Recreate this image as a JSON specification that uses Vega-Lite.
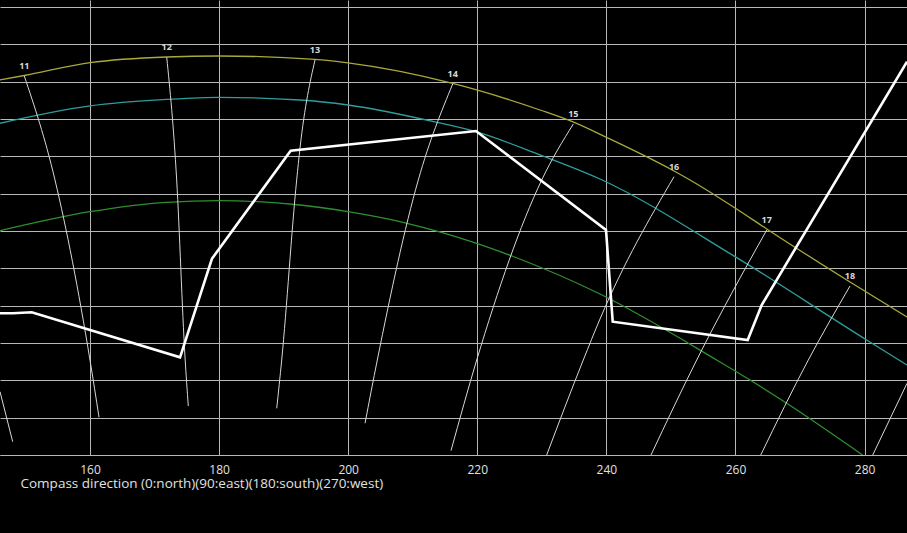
{
  "$schema": "https://vega.github.io/schema/vega-lite/v6.json",
  "width": 907,
  "height": 455,
  "autosize": {"type": "none"},
  "padding": {"left": 0, "top": 0, "right": 0, "bottom": 78},
  "background": "#000000",
  "config": {"view": {"stroke": null}, "font": "Open Sans"},
  "datasets": {
    "paths": [
      {"series": "A", "az": 146.06, "alt": 50.22},
      {"series": "A", "az": 149.82, "alt": 50.82},
      {"series": "A", "az": 160.0, "alt": 52.54},
      {"series": "A", "az": 171.89, "alt": 53.30},
      {"series": "A", "az": 179.94, "alt": 53.43},
      {"series": "A", "az": 194.86, "alt": 52.97},
      {"series": "A", "az": 199.97, "alt": 52.50},
      {"series": "A", "az": 216.19, "alt": 49.75},
      {"series": "A", "az": 219.91, "alt": 48.88},
      {"series": "A", "az": 229.72, "alt": 46.20},
      {"series": "A", "az": 234.83, "alt": 44.60},
      {"series": "A", "az": 240.05, "alt": 42.52},
      {"series": "A", "az": 250.48, "alt": 38.03},
      {"series": "A", "az": 252.95, "alt": 36.83},
      {"series": "A", "az": 259.93, "alt": 33.08},
      {"series": "A", "az": 264.84, "alt": 30.27},
      {"series": "A", "az": 277.74, "alt": 23.17},
      {"series": "A", "az": 286.57, "alt": 18.48},
      {"series": "B", "az": 146.06, "alt": 44.42},
      {"series": "B", "az": 160.0, "alt": 46.74},
      {"series": "B", "az": 171.89, "alt": 47.61},
      {"series": "B", "az": 179.94, "alt": 47.90},
      {"series": "B", "az": 192.54, "alt": 47.54},
      {"series": "B", "az": 199.97, "alt": 46.87},
      {"series": "B", "az": 213.45, "alt": 44.60},
      {"series": "B", "az": 219.91, "alt": 43.26},
      {"series": "B", "az": 229.72, "alt": 40.18},
      {"series": "B", "az": 239.01, "alt": 36.96},
      {"series": "B", "az": 259.93, "alt": 26.56},
      {"series": "B", "az": 280.33, "alt": 15.40},
      {"series": "B", "az": 286.57, "alt": 12.05},
      {"series": "C", "az": 146.06, "alt": 30.04},
      {"series": "C", "az": 160.0, "alt": 32.58},
      {"series": "C", "az": 171.89, "alt": 33.84},
      {"series": "C", "az": 179.94, "alt": 34.06},
      {"series": "C", "az": 192.54, "alt": 33.48},
      {"series": "C", "az": 199.97, "alt": 32.58},
      {"series": "C", "az": 209.11, "alt": 31.03},
      {"series": "C", "az": 219.91, "alt": 28.35},
      {"series": "C", "az": 225.38, "alt": 26.65},
      {"series": "C", "az": 239.01, "alt": 21.56},
      {"series": "C", "az": 257.09, "alt": 12.72},
      {"series": "C", "az": 262.25, "alt": 10.04},
      {"series": "C", "az": 267.93, "alt": 6.92},
      {"series": "C", "az": 279.68, "alt": 0.0}
    ],
    "horizon": [
      {"ord": 0, "az": 146.06, "alt": 18.98},
      {"ord": 1, "az": 148.07, "alt": 18.98},
      {"ord": 2, "az": 150.97, "alt": 19.11},
      {"ord": 3, "az": 173.95, "alt": 13.08},
      {"ord": 4, "az": 178.90, "alt": 26.29},
      {"ord": 5, "az": 191.09, "alt": 40.75},
      {"ord": 6, "az": 219.80, "alt": 43.39},
      {"ord": 7, "az": 239.94, "alt": 30.13},
      {"ord": 8, "az": 240.98, "alt": 17.85},
      {"ord": 9, "az": 261.89, "alt": 15.40},
      {"ord": 10, "az": 264.06, "alt": 20.09},
      {"ord": 11, "az": 286.57, "alt": 52.67}
    ],
    "hours": [
      {"hour": "10", "ord": 1, "az": 146.06, "alt": 8.48},
      {"hour": "10", "ord": 2, "az": 148.03, "alt": 1.78},
      {"hour": "11", "ord": 0, "az": 149.82, "alt": 50.76},
      {"hour": "11", "ord": 1, "az": 154.58, "alt": 36.83},
      {"hour": "11", "ord": 2, "az": 160.0, "alt": 12.72},
      {"hour": "11", "ord": 3, "az": 161.40, "alt": 5.05},
      {"hour": "12", "ord": 0, "az": 171.89, "alt": 53.26},
      {"hour": "12", "ord": 1, "az": 173.43, "alt": 36.83},
      {"hour": "12", "ord": 2, "az": 174.72, "alt": 13.12},
      {"hour": "12", "ord": 3, "az": 175.23, "alt": 6.56},
      {"hour": "13", "ord": 0, "az": 194.86, "alt": 52.90},
      {"hour": "13", "ord": 1, "az": 192.54, "alt": 41.11},
      {"hour": "13", "ord": 2, "az": 192.02, "alt": 36.83},
      {"hour": "13", "ord": 3, "az": 189.70, "alt": 12.72},
      {"hour": "13", "ord": 4, "az": 188.93, "alt": 6.25},
      {"hour": "14", "ord": 0, "az": 216.19, "alt": 49.68},
      {"hour": "14", "ord": 1, "az": 210.86, "alt": 36.83},
      {"hour": "14", "ord": 2, "az": 204.51, "alt": 12.72},
      {"hour": "14", "ord": 3, "az": 202.61, "alt": 4.25},
      {"hour": "15", "ord": 0, "az": 234.88, "alt": 44.33},
      {"hour": "15", "ord": 1, "az": 229.98, "alt": 36.83},
      {"hour": "15", "ord": 2, "az": 219.91, "alt": 12.72},
      {"hour": "15", "ord": 3, "az": 215.93, "alt": 0.58},
      {"hour": "16", "ord": 0, "az": 250.48, "alt": 37.27},
      {"hour": "16", "ord": 1, "az": 239.01, "alt": 18.21},
      {"hour": "16", "ord": 2, "az": 236.42, "alt": 12.72},
      {"hour": "16", "ord": 3, "az": 230.75, "alt": 0.0},
      {"hour": "17", "ord": 0, "az": 264.84, "alt": 30.13},
      {"hour": "17", "ord": 1, "az": 253.99, "alt": 12.72},
      {"hour": "17", "ord": 2, "az": 246.91, "alt": 0.0},
      {"hour": "18", "ord": 0, "az": 277.74, "alt": 22.63},
      {"hour": "18", "ord": 1, "az": 271.28, "alt": 12.72},
      {"hour": "18", "ord": 2, "az": 263.91, "alt": 0.0},
      {"hour": "19", "ord": 1, "az": 286.57, "alt": 9.60},
      {"hour": "19", "ord": 2, "az": 281.26, "alt": 0.0}
    ]
  },
  "encoding": {
    "x": {
      "field": "az",
      "type": "quantitative",
      "scale": {"domain": [146.06, 286.57], "nice": false, "zero": false},
      "axis": {
        "values": [160, 180, 200, 220, 240, 260, 280],
        "grid": true,
        "gridColor": "#b8b8b8",
        "gridWidth": 1,
        "domainColor": "#b8b8b8",
        "domainWidth": 1,
        "ticks": false,
        "labelColor": "#e0e0e0",
        "labelFontSize": 12,
        "labelBaseline": "alphabetic",
        "labelPadding": 18,
        "labelFlush": false,
        "title": "Compass direction (0:north)(90:east)(180:south)(270:west)",
        "titleColor": "#e0e0e0",
        "titleFontSize": 13.5,
        "titleFontWeight": "normal",
        "titleAnchor": "start",
        "titleAlign": "left",
        "titleBaseline": "alphabetic",
        "titleX": 20,
        "titleY": 32
      }
    },
    "y": {
      "field": "alt",
      "type": "quantitative",
      "scale": {"domain": [0, 60.93], "nice": false, "zero": false},
      "axis": {
        "values": [0, 5, 10, 15, 20, 25, 30, 35, 40, 45, 50, 55, 60],
        "grid": true,
        "gridColor": "#b8b8b8",
        "gridWidth": 1,
        "labels": false,
        "ticks": false,
        "domain": false,
        "title": null
      }
    }
  },
  "layer": [
    {
      "data": {"name": "paths"},
      "mark": {"type": "line", "clip": true, "interpolate": "monotone", "strokeWidth": 1.3},
      "encoding": {
        "color": {
          "field": "series",
          "type": "nominal",
          "scale": {"domain": ["A", "B", "C"], "range": ["#a9a93c", "#2f9d9d", "#2f8f2f"]},
          "legend": null
        }
      }
    },
    {
      "data": {"name": "hours"},
      "mark": {"type": "line", "clip": true, "color": "#d8d8d8", "strokeWidth": 1, "interpolate": "monotone"},
      "encoding": {
        "detail": {"field": "hour", "type": "nominal"},
        "order": {"field": "ord", "type": "quantitative"}
      }
    },
    {
      "data": {"name": "horizon"},
      "mark": {"type": "line", "clip": true, "color": "#ffffff", "strokeWidth": 2.6},
      "encoding": {
        "order": {"field": "ord", "type": "quantitative"}
      }
    },
    {
      "data": {"name": "hours"},
      "transform": [{"filter": "datum.ord == 0"}],
      "mark": {"type": "text", "dy": -10, "fontSize": 9, "fontWeight": "bold", "color": "#d8d8d8", "baseline": "middle", "align": "center"},
      "encoding": {
        "text": {"field": "hour", "type": "nominal"}
      }
    }
  ]
}
